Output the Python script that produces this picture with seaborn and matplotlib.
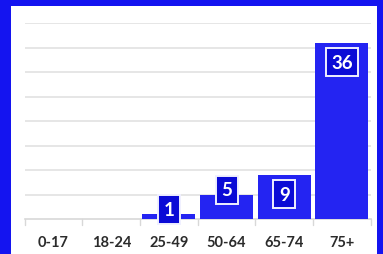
import numpy as np
import matplotlib
matplotlib.use("Agg")
import matplotlib.pyplot as plt
import seaborn as sns

# age groups and counts
age_groups = ["0-17", "18-24", "25-49", "50-64", "65-74", "75+"]
counts = [0, 0, 1, 5, 9, 36]

sns.set_style("white")
plt.rcParams["font.family"] = ["Lato", "DejaVu Sans"]

border_blue = "#1414f0"
bar_blue = "#2424f2"
label_blue = "#0b0bd6"

fig = plt.figure(figsize=(3.83, 2.55), dpi=100, facecolor=border_blue)
# white panel inside the blue frame
bg = fig.add_axes([11 / 383, 0, (377 - 11) / 383, (255 - 7) / 255])
bg.set_facecolor("white")
bg.set_xticks([])
bg.set_yticks([])
for s in bg.spines.values():
    s.set_visible(False)

ax = fig.add_axes([24.7 / 383, 34.7 / 255, (370.8 - 24.7) / 383, 196 / 255])
ax.set_facecolor("none")

sns.barplot(x=age_groups, y=counts, color=bar_blue, width=0.92,
            saturation=1, linewidth=0, ax=ax, zorder=3)

ax.set_ylim(0, 40)
ax.set_xlim(-0.5, len(age_groups) - 0.5)
ax.set_yticks(np.arange(5, 41, 5))
ax.yaxis.grid(True, color="#e2e2e2", linewidth=1.2, zorder=0)
ax.set_axisbelow(True)
ax.tick_params(axis="y", left=False, labelleft=False)
ax.tick_params(axis="x", bottom=False, pad=8, labelsize=10.5, labelcolor="#2b2b2b")
for lbl in ax.get_xticklabels():
    lbl.set_fontweight("bold")
for s in ["top", "right", "left"]:
    ax.spines[s].set_visible(False)
ax.spines["bottom"].set_color("#d8d8d8")
ax.spines["bottom"].set_linewidth(1.2)

# small separators between categories
for b in np.arange(-0.5, len(age_groups), 1.0):
    ax.plot([b, b], [0, -1.1], color="#d8d8d8", lw=1, clip_on=False)

ax.set_xlabel("")
ax.set_ylabel("")

# value labels in boxed tags
for i, v in enumerate(counts):
    if v <= 0:
        continue
    y = v - 3.9 if v >= 9 else v + 1
    ax.text(i, y, str(v), ha="center", va="center", color="white",
            fontsize=13.5, fontweight="bold", zorder=5,
            bbox=dict(boxstyle="square,pad=0.3", facecolor=label_blue,
                      edgecolor="#f0f0ff", linewidth=1.4))

fig.savefig("out.png", dpi=100, facecolor=border_blue)
